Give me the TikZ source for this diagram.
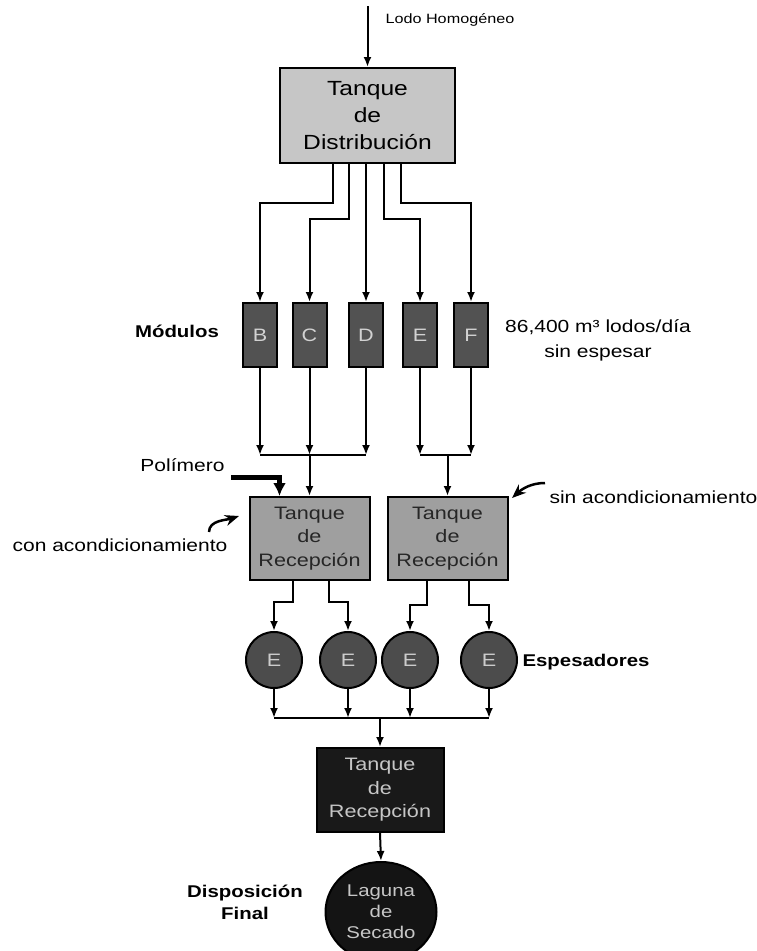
\documentclass[tikz,border=0pt]{standalone}
\usepackage{fontspec}
\setmainfont{Liberation Sans}[FakeStretch=1.2]
\usepackage{tikz}
\usetikzlibrary{shapes}
\usetikzlibrary{arrows.meta}
\tikzset{
  tanque/.style = {align=center, inner sep=0pt, rectangle, draw=black,
    line width=2pt},
  tanque_dist/.style = {tanque, fill=gray!45, minimum width=175pt,
    minimum height=95pt, font=\fontsize{20.5}{27}\selectfont},% tanque de distribucion
  tanque_rec/.style = {tanque, fill=gray!75, text=black!85, minimum width=120pt,
    minimum height=83pt, font=\fontsize{18}{23.5}\selectfont},% tanque de recepcion
  tanque_osc/.style = {tanque, fill=black!90, text=gray!45, minimum width=127pt,
    minimum height=84pt, font=\fontsize{18}{23.5}\selectfont},% recepcion final
  modulo/.style = {tanque, fill=black!68, text=gray!35, minimum width=34pt,
    minimum height=64pt, font=\fontsize{18}{20}\selectfont},
  espesador/.style = {circle, draw=black, line width=2pt, fill=black!70,
    text=gray!40, minimum size=56pt, inner sep=0pt, font=\fontsize{18}{20}\selectfont},
  laguna/.style = {ellipse, draw=black, line width=2pt, fill=black!92,
    text=gray!45, minimum width=111pt, minimum height=100pt, inner sep=0pt,
    align=center, font=\fontsize{17}{21}\selectfont},
  flujo/.style = {line width=2pt, -{Latex[length=10pt,width=8pt]}},
  tubo/.style = {line width=2pt},
  flujo_grueso/.style = {line width=5pt, -{Latex[length=13pt,width=13pt]}},
  curva/.style = {line width=2.5pt, -{Stealth[length=14pt,width=11pt]}},
  rotulo/.style = {font=\fontsize{17.5}{25}\selectfont, align=center},
  rotulo_s/.style = {font=\fontsize{13.5}{16}\selectfont},
  rotulo_b/.style = {font=\bfseries\fontsize{17}{22}\selectfont, align=center}
}

\begin{document}
\begin{tikzpicture}[x=1pt, y=-1pt]
    \useasboundingbox (0,0) rectangle (757,951);
    % entrada
    \node [rotulo_s, anchor=west] (lodo) at (382,20) {Lodo Homogéneo};
    \node [tanque_dist] (dist) at (367.5,115.5) {Tanque\\de\\Distribución};
    \coordinate (entrada) at (367.5,6);
    \draw [flujo] (entrada) -- (dist.north);

    % modulos
    \node [modulo] (mod_b) at (260,335) {B};
    \node [modulo] (mod_c) at (309.5,335) {C};
    \node [modulo] (mod_d) at (366,335) {D};
    \node [modulo] (mod_e) at (420,335) {E};
    \node [modulo] (mod_f) at (471,335) {F};
    \node [rotulo_b] (modulos) at (177,331) {Módulos};
    \node [rotulo] (caudal) at (598,340) {86,400 m³ lodos/día\\sin espesar};

    \draw [flujo] ([xshift=-34.5pt]dist.south) -- ++(0,39) -| (mod_b.north);
    \draw [flujo] ([xshift=-18.5pt]dist.south) -- ++(0,55) -| (mod_c.north);
    \draw [flujo] (dist.south -| mod_d.north) -- (mod_d.north);
    \draw [flujo] ([xshift=16.5pt]dist.south) -- ++(0,55) -| (mod_e.north);
    \draw [flujo] ([xshift=33.5pt]dist.south) -- ++(0,39) -| (mod_f.north);

    % colectores
    \coordinate (col_l) at (309.5,455);
    \coordinate (col_r) at (447.5,455);
    \foreach \m in {mod_b,mod_c,mod_d}
      \draw [flujo] (\m.south) -- (\m.south |- col_l);
    \draw [tubo] (mod_b.south |- col_l) -- (mod_d.south |- col_l);
    \foreach \m in {mod_e,mod_f}
      \draw [flujo] (\m.south) -- (\m.south |- col_r);
    \draw [tubo] (mod_e.south |- col_r) -- (mod_f.south |- col_r);

    % tanques de recepcion
    \node [tanque_rec] (rec_a) at (309.5,538.5) {Tanque\\de\\Recepción};
    \node [tanque_rec] (rec_b) at (447.5,538.5) {Tanque\\de\\Recepción};
    \draw [flujo] (col_l) -- (rec_a.north);
    \draw [flujo] (col_r) -- (rec_b.north);

    \node [rotulo, anchor=east] (polimero) at (228,465) {Polímero};
    \coordinate (pol_in) at (231,477);
    \draw [flujo_grueso] (pol_in) -| ([xshift=-30pt]rec_a.north);

    \node [rotulo] (con) at (120,545) {con acondicionamiento};
    \coordinate (con_a) at (209,532);
    \coordinate (con_b) at (239,516);
    \draw [curva] (con_a) .. controls +(0,-12) and +(-12,4) .. (con_b);

    \node [rotulo, anchor=west] (sin) at (546,497) {sin acondicionamiento};
    \coordinate (sin_a) at (545,483);
    \coordinate (sin_b) at (512,498);
    \draw [curva] (sin_a) .. controls +(-14,0) and +(10,-9) .. (sin_b);

    % espesadores
    \node [espesador] (esp_a) at (274,660) {E};
    \node [espesador] (esp_b) at (348,660) {E};
    \node [espesador] (esp_c) at (410,660) {E};
    \node [espesador] (esp_d) at (489,660) {E};
    \node [rotulo_b] (espesadores) at (586,662) {Espesadores};

    \draw [flujo] ([xshift=-16.5pt]rec_a.south) -- ++(0,21) -| (esp_a.north);
    \draw [flujo] ([xshift=19.5pt]rec_a.south) -- ++(0,21) -| (esp_b.north);
    \draw [flujo] ([xshift=-20.5pt]rec_b.south) -- ++(0,24) -| (esp_c.north);
    \draw [flujo] ([xshift=21.5pt]rec_b.south) -- ++(0,24) -| (esp_d.north);

    \coordinate (col_e) at (380,718);
    \foreach \e in {esp_a,esp_b,esp_c,esp_d}
      \draw [flujo] (\e.south) -- (\e.south |- col_e);
    \draw [tubo] (esp_a.south |- col_e) -- (esp_d.south |- col_e);

    % disposicion final
    \node [tanque_osc] (rec_c) at (380,790) {Tanque\\de\\Recepción};
    \draw [flujo] (col_e) -- (rec_c.north);
    \node [laguna] (laguna) at (381,912) {Laguna\\de\\Secado};
    \draw [flujo] (rec_c.south) -- (laguna.north);
    \node [rotulo_b] (disposicion) at (245,902) {Disposición\\Final};
\end{tikzpicture}
\end{document}
